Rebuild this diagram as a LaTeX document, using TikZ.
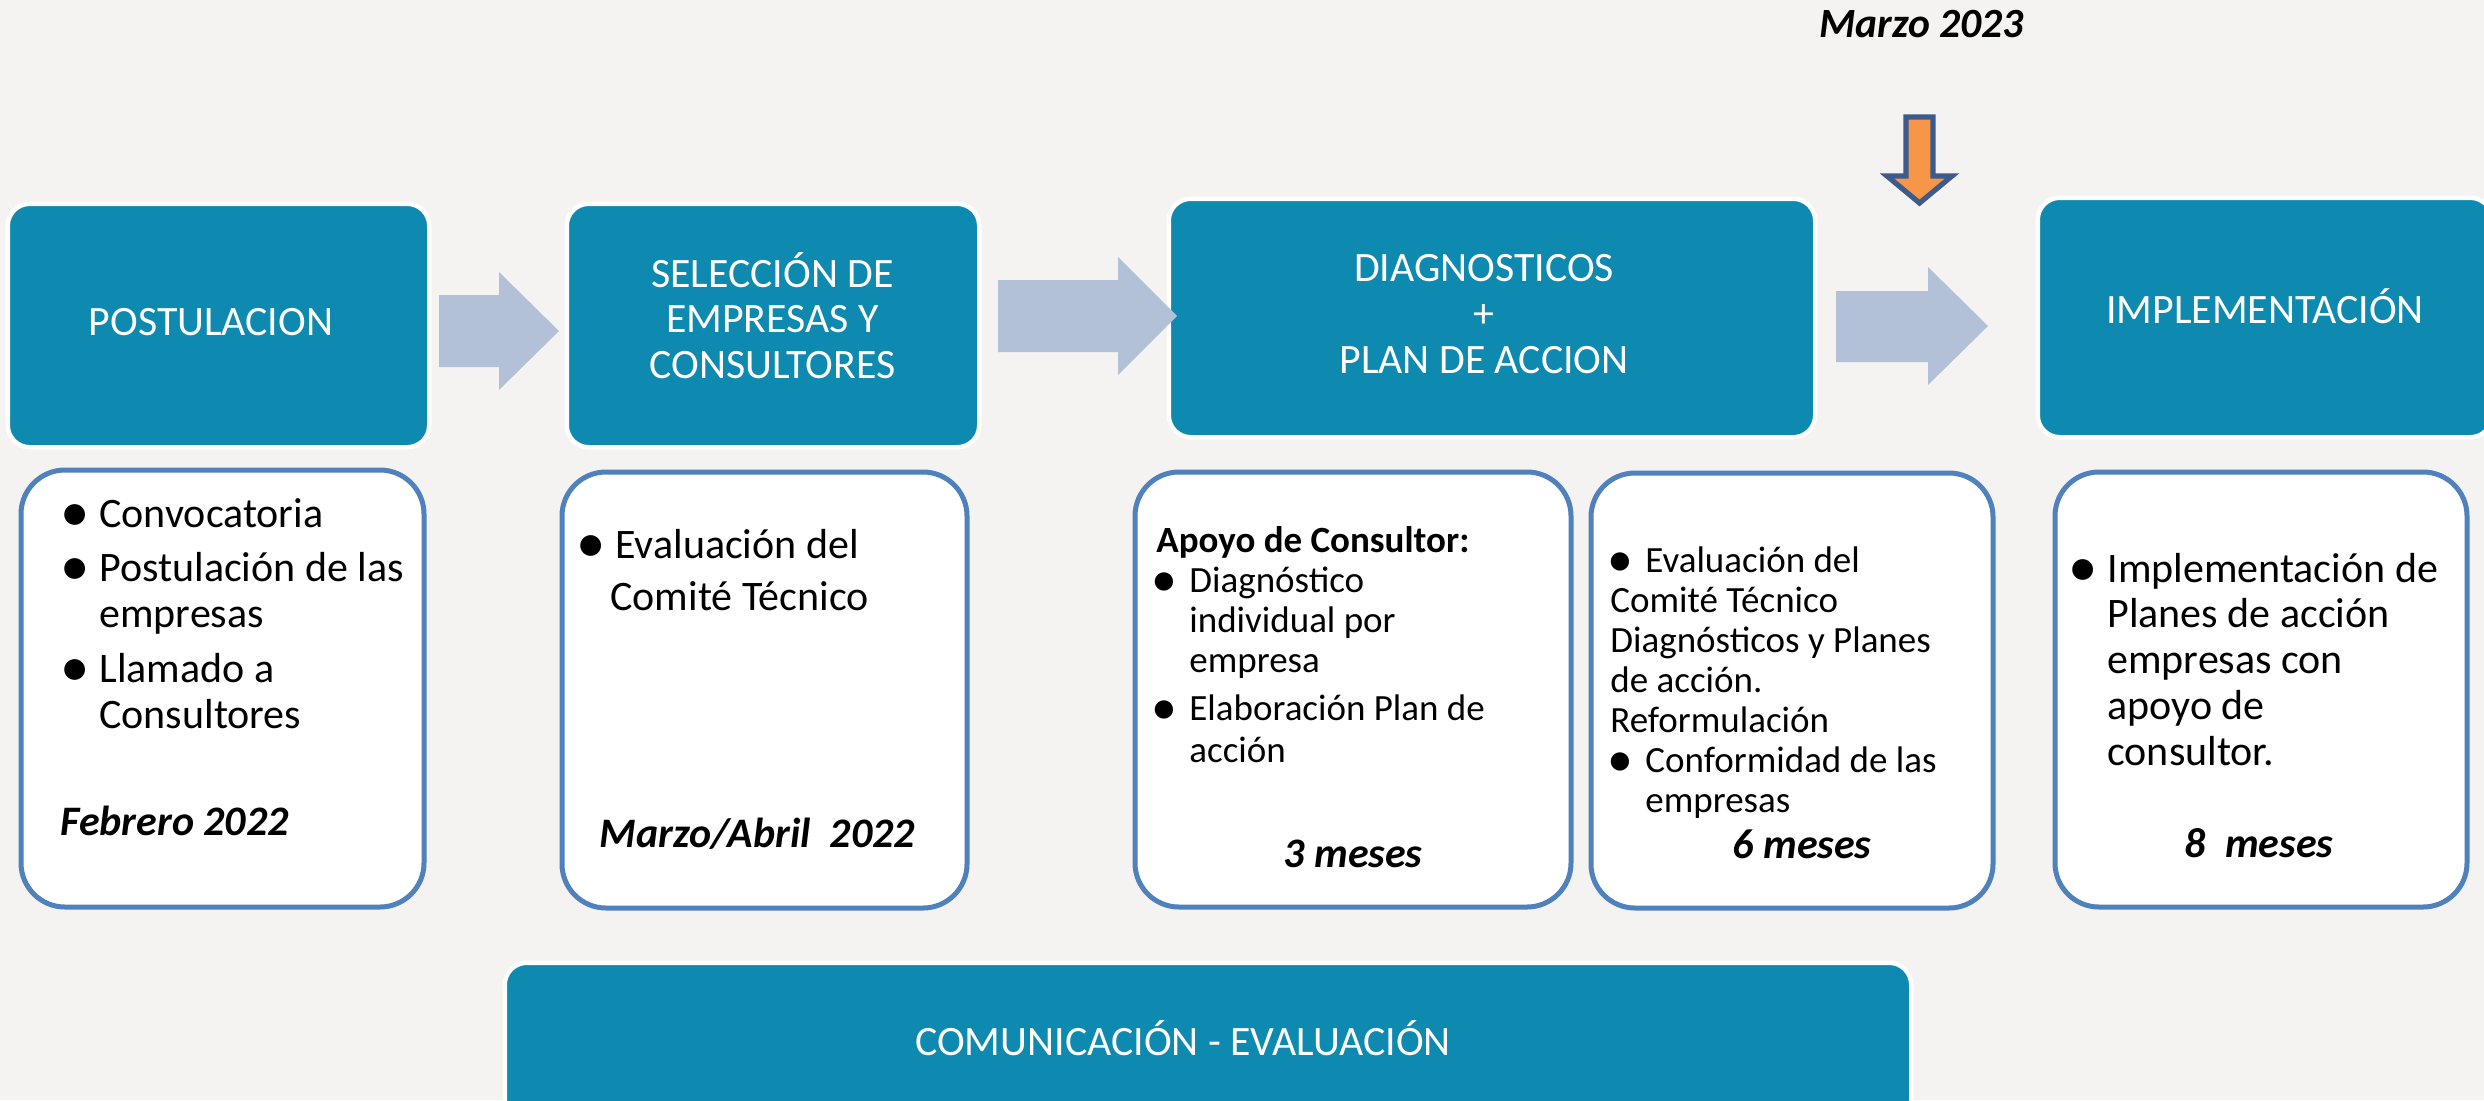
\documentclass[tikz,border=0pt]{standalone}
\usepackage{fontspec}
\setmainfont{Carlito}
\definecolor{bg}{RGB}{244,243,241}
\definecolor{teal0}{RGB}{14,137,176}
\definecolor{bord}{RGB}{79,129,189}
\definecolor{arrowc}{RGB}{179,193,216}
\definecolor{orange0}{RGB}{247,150,70}
\definecolor{orangeb}{RGB}{60,90,140}
\newcommand{\bul}[1]{\leavevmode\llap{\makebox[#1][c]{\raisebox{-2.3pt}{\scalebox{1.4}{•}}}}}
\begin{document}
\begin{tikzpicture}[x=0.5pt,y=-0.5pt,
  tealbox/.style={rectangle, rounded corners=11pt, fill=teal0, draw=white, line width=2.25pt, inner sep=0pt},
  wbox/.style={rectangle, rounded corners=22pt, fill=white, draw=bord, line width=2.5pt, inner sep=0pt},
  ttl/.style={inner sep=0pt, anchor=base, text=white, font=\fontsize{20.9pt}{22.75pt}\selectfont},
  body/.style={inner sep=0pt, anchor=base west, font=\fontsize{21pt}{23pt}\selectfont},
  smallbody/.style={inner sep=0pt, anchor=base west, font=\fontsize{18.5pt}{20pt}\selectfont},
  datelbl/.style={inner sep=0pt, anchor=base, font=\fontsize{21pt}{24pt}\selectfont\bfseries\itshape},
  blockarrow/.style={fill=arrowc, draw=none}
]
\fill[bg] (0,0) rectangle (2484,1100);
\useasboundingbox (0,0) rectangle (2484,1100);

% top boxes
\node[tealbox, minimum width=210.75pt, minimum height=121.75pt] (t1) at (218.5,325.5) {};
\node[tealbox, minimum width=206.25pt, minimum height=121.75pt] (t2) at (773,325.5) {};
\node[tealbox, minimum width=323.25pt, minimum height=119.25pt] (t3) at (1492,318) {};
\node[tealbox, minimum width=227.25pt, minimum height=119.75pt] (t4) at (2265,317.5) {};
\node[tealbox, minimum width=703.25pt, minimum height=79.25pt] (com) at (1208,1042) {};

\node[ttl] (t1txt) at (211,335) {POSTULACION};
\node[ttl] (t2txt) at (772.5,287) {\parbox[t]{200pt}{\centering SELECCIÓN DE\\EMPRESAS Y\\CONSULTORES}};
\node[ttl, font=\fontsize{20.9pt}{23pt}\selectfont] (t3txt) at (1484,281) {\parbox[t]{300pt}{\centering DIAGNOSTICOS\\+\\PLAN DE ACCION}};
\node[ttl] (t4txt) at (2265,323) {IMPLEMENTACIÓN};
\node[ttl] (comtxt) at (1183,1055) {COMUNICACIÓN - EVALUACIÓN};

% block arrows
\fill[blockarrow] (439,295) -- (499,295) -- (499,272) -- (559,331) -- (499,390) -- (499,367) -- (439,367) -- cycle;
\fill[blockarrow] (998,280) -- (1118,280) -- (1118,257) -- (1177,316) -- (1118,375) -- (1118,352) -- (998,352) -- cycle;
\fill[blockarrow] (1836,291) -- (1928,291) -- (1928,267) -- (1988,326) -- (1928,385) -- (1928,362) -- (1836,362) -- cycle;

% orange arrow
\draw[fill=orange0, draw=orangeb, line width=2.6pt] (1906,117) -- (1933,117) -- (1933,176) -- (1952,176) -- (1919.5,203) -- (1887,176) -- (1906,176) -- cycle;
\node[inner sep=0pt, anchor=base west, font=\fontsize{20.8pt}{24pt}\selectfont\bfseries\itshape] (marzo) at (1819,37) {Marzo 2023};

% bottom boxes
\node[wbox, minimum width=201.5pt, minimum height=218.5pt] (b1) at (222.5,688.5) {};
\node[wbox, minimum width=202.5pt, minimum height=218pt] (b2) at (764.5,690) {};
\node[wbox, minimum width=218pt, minimum height=217.5pt] (b3) at (1353,689.5) {};
\node[wbox, minimum width=201pt, minimum height=217.5pt] (b4) at (1792,690.5) {};
\node[wbox, minimum width=206pt, minimum height=217.5pt] (b5) at (2261,689.5) {};

\node[body] (b1txt) at (99,527) {\parbox[t]{200pt}{\raggedright
  \bul{24pt}Convocatoria\\[4pt]
  \bul{24pt}Postulación de las\\
  empresas\\[4.5pt]
  \bul{24pt}Llamado a\\
  Consultores}};
\node[body] (b2txt) at (610,558) {\parbox[t]{200pt}{\raggedright
  \hspace*{2.5pt}\bul{24pt}Evaluación del\\[3pt]
  Comité Técnico}};
\node[smallbody] (b3txt) at (1156,552) {\parbox[t]{220pt}{\raggedright
  {\bfseries Apoyo de Consultor:}\\
  \hspace*{16.5pt}\bul{25pt}Diagnóstico\\
  \hspace*{16.5pt}individual por\\
  \hspace*{16.5pt}empresa\\[4pt]
  \hspace*{16.5pt}\bul{25pt}Elaboración Plan de\\[1pt]
  \hspace*{16.5pt}acción}};
\node[smallbody] (b4txt) at (1610,572) {\parbox[t]{220pt}{\raggedright
  \hspace*{17.5pt}\bul{25pt}Evaluación del\\
  Comité Técnico\\
  Diagnósticos y Planes\\
  de acción.\\
  Reformulación\\
  \hspace*{17.5pt}\bul{25pt}Conformidad de las\\
  \hspace*{17.5pt}empresas}};
\node[body, font=\fontsize{21pt}{22.9pt}\selectfont] (b5txt) at (2107,582) {\parbox[t]{200pt}{\raggedright
  \bul{24pt}Implementación de\\
  Planes de acción\\
  empresas con\\
  apoyo de\\
  consultor.}};

\node[datelbl, anchor=base west] (b1date) at (60,835) {Febrero 2022};
\node[datelbl, anchor=base west] (b2date) at (599,847) {Marzo/Abril\ \ 2022};
\node[datelbl] (b3date) at (1353,867) {3 meses};
\node[datelbl] (b4date) at (1802,858) {6 meses};
\node[datelbl] (b5date) at (2259,857) {8\ \ meses};
\end{tikzpicture}
\end{document}
